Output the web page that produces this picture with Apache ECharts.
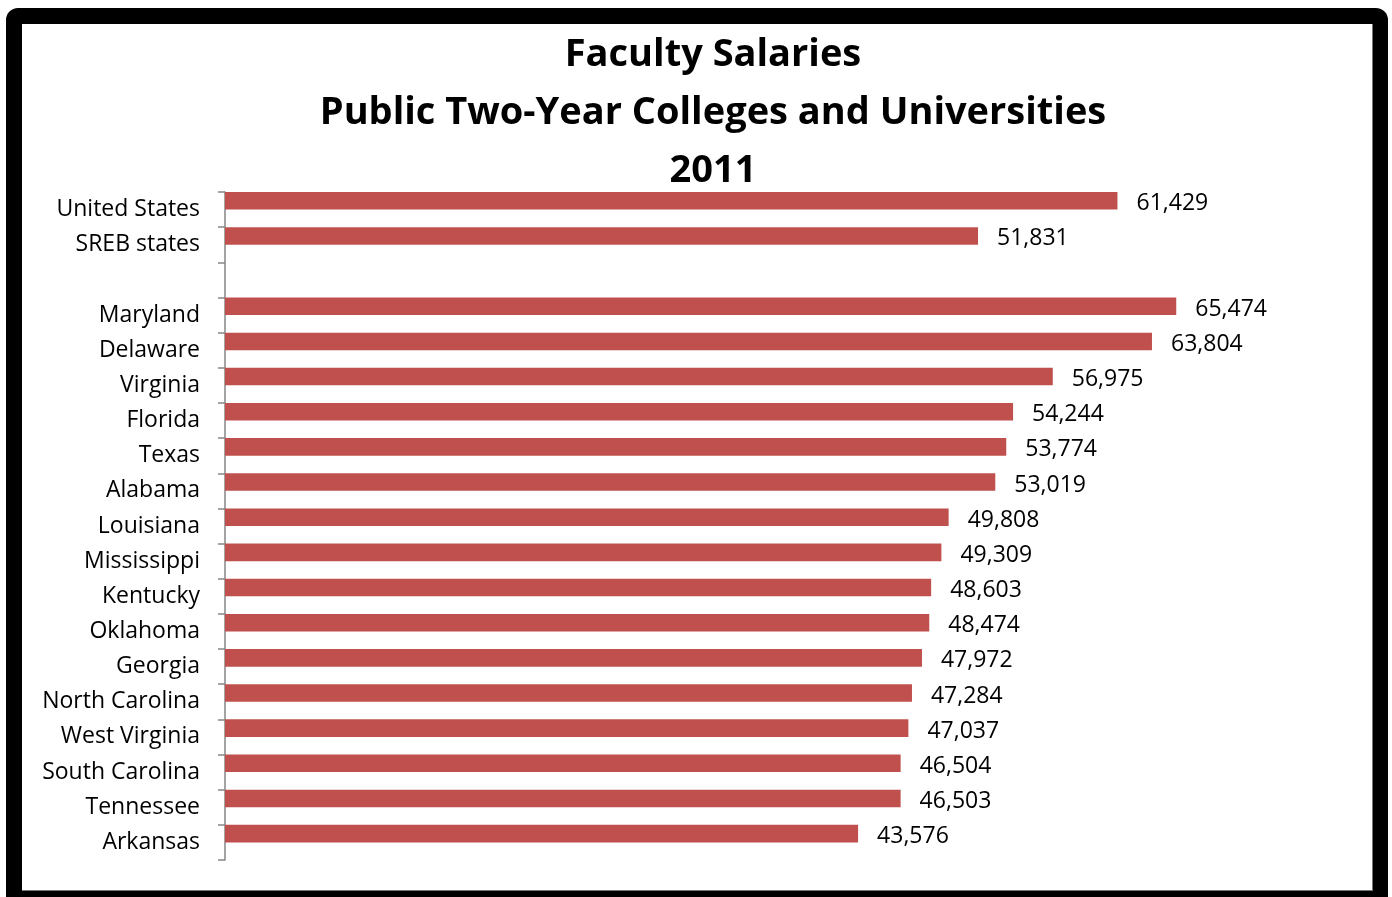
<!DOCTYPE html>
<html>
<head>
<meta charset="utf-8">
<script src="https://cdn.jsdelivr.net/npm/echarts@6/dist/echarts.min.js"></script>
<style>
  html, body { margin: 0; padding: 0; background: #fff; width: 1392px; height: 897px; overflow: hidden; }
  #frame { position: absolute; left: 6px; top: 8px; width: 1382px; height: 905px; background: #000; border-radius: 12px; }
  #inner { position: absolute; left: 22px; top: 24px; width: 1350px; height: 866px; background: #fff; border-right: 1px solid #777; border-bottom: 1px solid #777; }
  #chart { position: absolute; left: 0; top: 0; width: 1392px; height: 897px; }
</style>
</head>
<body>
<div id="frame"></div>
<div id="inner"></div>
<div id="chart"></div>
<script>
const titleLines = ['Faculty Salaries', 'Public Two-Year Colleges and Universities', '2011'];
const categories = ['United States', 'SREB states', '', 'Maryland', 'Delaware', 'Virginia', 'Florida', 'Texas', 'Alabama', 'Louisiana', 'Mississippi', 'Kentucky', 'Oklahoma', 'Georgia', 'North Carolina', 'West Virginia', 'South Carolina', 'Tennessee', 'Arkansas'];
const salaries = [61429, 51831, null, 65474, 63804, 56975, 54244, 53774, 53019, 49808, 49309, 48603, 48474, 47972, 47284, 47037, 46504, 46503, 43576];
const spacer = categories.map(() => null);

const FONT = '"Open Sans", sans-serif';
const chart = echarts.init(document.getElementById('chart'), null, { renderer: 'canvas' });
chart.setOption({
  backgroundColor: 'transparent',
  animation: false,
  title: {
    text: titleLines.join('\n'),
    left: 708,
    top: 21,
    textAlign: 'center',
    textStyle: { fontFamily: FONT, fontWeight: 'bold', fontSize: 38, lineHeight: 58, color: '#000' }
  },
  grid: { left: 225, top: 192, width: 1017, height: 668, containLabel: false },
  xAxis: { type: 'value', min: 0, max: 70000, show: false },
  yAxis: {
    type: 'category',
    inverse: true,
    data: categories,
    axisLine: { show: true, lineStyle: { color: '#868686', width: 1.5 } },
    axisTick: { show: true, length: 7, inside: false, lineStyle: { color: '#868686', width: 1.5 } },
    axisLabel: { fontFamily: FONT, fontSize: 23, color: '#000', margin: 25, padding: [4, 0, 0, 0] }
  },
  series: [
    {
      type: 'bar',
      data: salaries,
      barGap: '0%',
      barCategoryGap: '0%',
      itemStyle: { color: '#C0504D' },
      label: {
        show: true,
        position: 'right',
        distance: 19,
        offset: [0, 3],
        fontFamily: FONT,
        fontSize: 23,
        color: '#000',
        formatter: p => p.value == null ? '' : p.value.toLocaleString('en-US')
      }
    },
    {
      type: 'bar',
      data: spacer,
      barGap: '0%',
      barCategoryGap: '0%',
      itemStyle: { color: 'transparent' }
    }
  ]
});
</script>
</body>
</html>
